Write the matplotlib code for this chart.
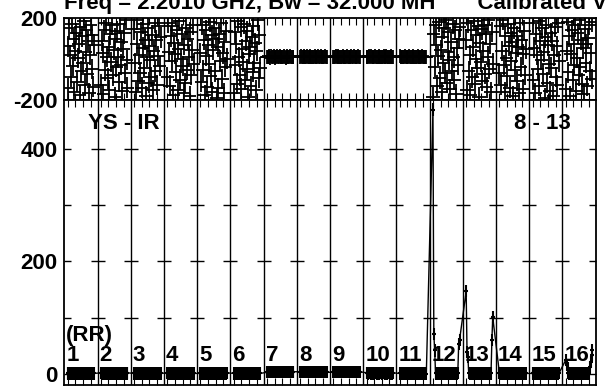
import matplotlib
matplotlib.use("Agg")
import matplotlib.pyplot as plt
import numpy as np

plt.rcParams['font.family'] = ['Liberation Sans', 'DejaVu Sans']
plt.rcParams['font.weight'] = 'bold'

title = "Freq = 2.2010 GHz, Bw = 32.000 MH'      Calibrated Vis"
baseline_label = "YS - IR"
time_label = "8 - 13"
pol_label = "(RR)"
if_labels = [str(i) for i in range(1, 17)]

# phase (deg) per IF, 32 channels each
phase_by_if = [
    [62, -143, 150, 18, -88, 171, -35, 97, -160, 40, 128, -110, 5, 73, -178, 155, -60, 110, -20, 185, -125, 33, 142, -75, 88, -168, 20, 164, -48, 115, -135, 70],
    [-125, 88, 30, -170, 140, -55, 176, 12, -95, 60, -150, 120, -15, 165, -80, 45, -185, 100, -40, 135, 8, -112, 172, -28, 82, -158, 48, 125, -70, 190, -5, -140],
    [145, -20, -160, 75, 190, -105, 20, -70, 130, -140, 55, 170, -45, 95, -180, 10, 150, -115, 65, -5, -88, 118, -150, 38, 178, -60, 92, -128, 15, 160, -35, 105],
    [-90, 175, 35, -130, 110, -10, 160, -175, 80, 25, -65, 140, -150, 50, 185, -100, 0, 120, -35, -165, 68, -118, 152, -52, 98, 12, -182, 132, -78, 42, 168, -22],
    [30, -110, 165, -55, 95, -175, 140, 15, -135, 70, -25, 180, -85, 115, -160, 45, 150, -60, 100, -190, 58, -142, 122, -8, 178, -98, 28, -168, 85, -40, 138, 2],
    [-165, 130, -30, 75, -120, 185, 10, -80, 155, -145, 50, -15, 170, -100, 90, -50, 135, -185, 25, 60, -132, 108, -62, 162, -18, 78, -152, 38, 188, -92, 118, -42],
    [12, 8, 14, 10, 6, 13, 11, 9, 15, 10, 7, 12, 14, 9, 11, 13, 8, 10, 12, 9, 14, 11, 7, 13, 10, 12, 9, 15, 11, 8, 12, 10],
    [10, 13, 9, 12, 14, 8, 11, 10, 13, 12, 9, 11, 15, 10, 8, 12, 11, 13, 9, 10, 12, 14, 10, 8, 13, 11, 9, 12, 10, 14, 11, 9],
    [11, 9, 12, 14, 10, 8, 13, 11, 9, 12, 10, 14, 11, 8, 12, 10, 13, 9, 11, 12, 10, 13, 8, 11, 14, 9, 12, 10, 11, 13, 9, 12],
    [9, 12, 10, 13, 11, 14, 8, 10, 12, 9, 13, 11, 10, 12, 14, 9, 11, 8, 12, 10, 13, 9, 11, 14, 10, 12, 8, 11, 13, 10, 9, 12],
    [13, 10, 8, 12, 11, 9, 14, 10, 12, 11, 8, 13, 10, 9, 12, 11, 14, 10, 9, 12, 11, 13, 10, 8, 12, 9, 14, 11, 10, 12, 9, 11],
    [-185, 120, -40, 165, 70, -130, 15, 180, -95, 45, -160, 105, -20, 150, -70, 190, -115, 35, 130, -5, -148, 82, -58, 172, 8, -102, 142, -172, 52, -28, 98, 158],
    [95, -150, 175, -60, 20, -175, 140, -90, 60, 185, -120, 0, 115, -45, 160, -185, 80, -15, 145, -105, 38, 168, -72, 122, -138, 12, 188, -48, 72, -162, 132, -22],
    [-70, 160, -125, 40, 190, -30, -160, 110, 5, -85, 170, 65, -140, 125, -10, 85, -180, 150, -55, 30, 112, -108, 58, -168, 178, -38, 92, -148, 22, 138, -78, 48],
    [175, -100, 55, -165, 120, 20, -50, 185, -130, 90, -5, 150, -75, 35, -190, 105, 165, -115, 70, -25, -155, 128, -42, 88, -182, 18, 158, -88, 62, -128, 178, -12],
    [-145, 40, 180, -65, 110, -180, 25, 140, -100, 75, -30, 165, -155, 5, 125, -80, 190, -40, 95, -120, 52, -170, 148, -18, 72, -132, 102, 168, -58, 28, -98, 182],
]
phase_err_by_if = [50, 50, 50, 50, 50, 50, 34, 34, 34, 34, 34, 50, 50, 50, 50, 50]

# amplitude per IF, 32 channels each
amp_by_if = [
    [1, 2, 1, 1, 2, 1, 0, 1, 2, 1, 1, 2, 1, 1, 0, 1, 2, 1, 1, 2, 1, 1, 2, 1, 0, 1, 1, 2, 1, 1, 2, 1],
    [2, 1, 1, 2, 1, 1, 2, 1, 0, 1, 2, 1, 1, 2, 1, 1, 2, 1, 1, 1, 2, 1, 1, 0, 1, 2, 1, 1, 2, 1, 1, 2],
    [1, 1, 2, 1, 1, 2, 1, 1, 2, 1, 0, 1, 1, 2, 1, 1, 1, 2, 1, 1, 2, 1, 1, 2, 1, 1, 0, 1, 2, 1, 1, 1],
    [2, 1, 1, 1, 2, 1, 1, 0, 1, 2, 1, 1, 2, 1, 1, 1, 2, 1, 1, 2, 1, 1, 2, 1, 1, 2, 1, 0, 1, 1, 2, 1],
    [1, 2, 1, 1, 1, 2, 1, 1, 2, 1, 1, 0, 1, 2, 1, 1, 2, 1, 1, 1, 2, 1, 1, 2, 1, 1, 1, 2, 0, 1, 1, 2],
    [1, 1, 2, 1, 2, 1, 1, 1, 2, 1, 1, 2, 1, 0, 1, 2, 1, 1, 2, 1, 1, 2, 1, 1, 1, 2, 1, 1, 2, 1, 0, 1],
    [3, 4, 3, 3, 4, 3, 4, 3, 3, 4, 3, 3, 4, 3, 4, 3, 3, 4, 3, 3, 4, 3, 3, 4, 3, 4, 3, 3, 4, 3, 3, 4],
    [4, 3, 3, 4, 3, 4, 3, 3, 4, 3, 4, 3, 3, 4, 3, 3, 4, 3, 4, 3, 3, 4, 3, 3, 4, 3, 4, 3, 3, 4, 3, 3],
    [3, 3, 4, 3, 3, 4, 3, 4, 3, 3, 4, 3, 3, 4, 3, 4, 3, 3, 4, 3, 4, 3, 3, 4, 3, 3, 4, 3, 4, 3, 3, 4],
    [2, 2, 1, 2, 2, 1, 2, 2, 1, 2, 2, 2, 1, 2, 2, 1, 2, 2, 1, 2, 2, 1, 2, 2, 1, 2, 2, 1, 2, 2, 1, 2],
    [1, 0, 1, 1, 0, 1, 1, 0, 1, 1, 0, 1, 1, 0, 1, 1, 0, 1, 1, 0, 1, 1, 0, 1, 1, 0, 1, 1, 0, 1, 1, 0],
    [470, 71, 42, 2, 1, 2, 1, 1, 2, 1, 1, 2, 1, 1, 2, 1, 1, 2, 1, 1, 2, 1, 1, 2, 1, 1, 2, 1, 1, 2, 53, 60],
    [147, 39, 30, 2, 1, 1, 2, 1, 1, 2, 1, 1, 2, 1, 1, 2, 1, 1, 2, 1, 1, 2, 1, 1, 2, 1, 1, 2, 1, 1, 60, 101],
    [2, 1, 1, 2, 1, 1, 2, 1, 1, 2, 1, 1, 2, 1, 1, 2, 1, 1, 2, 1, 1, 2, 1, 1, 2, 1, 1, 2, 1, 1, 2, 1],
    [1, 2, 1, 1, 2, 1, 1, 2, 1, 1, 2, 1, 1, 2, 1, 1, 2, 1, 1, 2, 1, 1, 2, 1, 1, 2, 1, 1, 2, 1, 1, 2],
    [25, 16, 10, 2, 1, 1, 2, 1, 1, 2, 1, 1, 2, 1, 1, 2, 1, 1, 2, 1, 1, 2, 1, 1, 2, 1, 1, 2, 12, 21, 34, 42],
]
amp_err = 11

nif = len(phase_by_if)
nch = len(phase_by_if[0])
frac = np.linspace(0.1, 0.9, nch)

fig = plt.figure(figsize=(6.07, 3.89), dpi=100)
L = 64.3 / 607
W = (595.7 - 64.3) / 607
ax1 = fig.add_axes([L, 1 - 100 / 389, W, 82 / 389])
ax2 = fig.add_axes([L, 1 - 385 / 389, W, 285 / 389])

for ax in (ax1, ax2):
    for s in ax.spines.values():
        s.set_linewidth(1.3)
    for k in range(1, nif):
        ax.axvline(k, color='k', lw=1.0, zorder=1)
    ax.set_xlim(0, nif)
    minor_pos = [i + f for i in range(nif) for f in (0.1, 0.33, 0.56, 0.79)]
    ax.set_xticks(minor_pos)
    ax.set_xticklabels([])
    ax.tick_params(axis='x', direction='in', length=5, width=0.8, top=True, bottom=True)

# phase panel
for i in range(nif):
    xs = i + frac
    ax1.errorbar(xs, phase_by_if[i], yerr=phase_err_by_if[i], xerr=0.2, fmt='none',
                 ecolor='k', elinewidth=1.3, capsize=0, zorder=3)
ax1.set_ylim(-200, 200)
ax1.set_yticks([-200, 200])
ax1.set_yticklabels(['-200', '200'])
ax1.tick_params(axis='y', direction='in', length=5, labelsize=16, pad=5, right=True)

# amplitude panel
xall = np.concatenate([i + frac for i in range(nif)])
aall = np.concatenate([np.array(a, dtype=float) for a in amp_by_if])
ax2.plot(xall, aall, color='k', lw=1, zorder=3)
ax2.errorbar(xall, aall, yerr=amp_err, xerr=0.06, fmt='none', ecolor='k',
             elinewidth=1.5, capsize=0, zorder=3)
for k in range(1, nif):
    ax2.plot([k] * 4, [100, 200, 300, 400], ls='none', marker='_', ms=10, mew=1.0, color='k', zorder=2)
ax2.set_ylim(-19.6, 487)
ax2.set_yticks([0, 200, 400])
ax2.set_yticks([100, 300], minor=True)
ax2.tick_params(axis='y', which='both', direction='in', length=5, width=1.0, labelsize=16, pad=5, right=True)

ax2.text(0.71, 446, baseline_label, fontsize=16, fontweight='bold', ha='left', va='center')
ax2.text(13.55, 446, time_label, fontsize=16, fontweight='bold', ha='left', va='center')
ax2.text(0.06, 69, pol_label, fontsize=16, fontweight='bold', ha='left', va='center', zorder=5)
for i, lab in enumerate(if_labels):
    ax2.text(i + 0.06, 33, lab, fontsize=16, fontweight='bold', ha='left', va='center', zorder=5)

fig.text(64.5 / 607, 1 - 9.5 / 389, title, fontsize=16, fontweight='bold', ha='left', va='baseline')

fig.savefig("out.png", dpi=100)
